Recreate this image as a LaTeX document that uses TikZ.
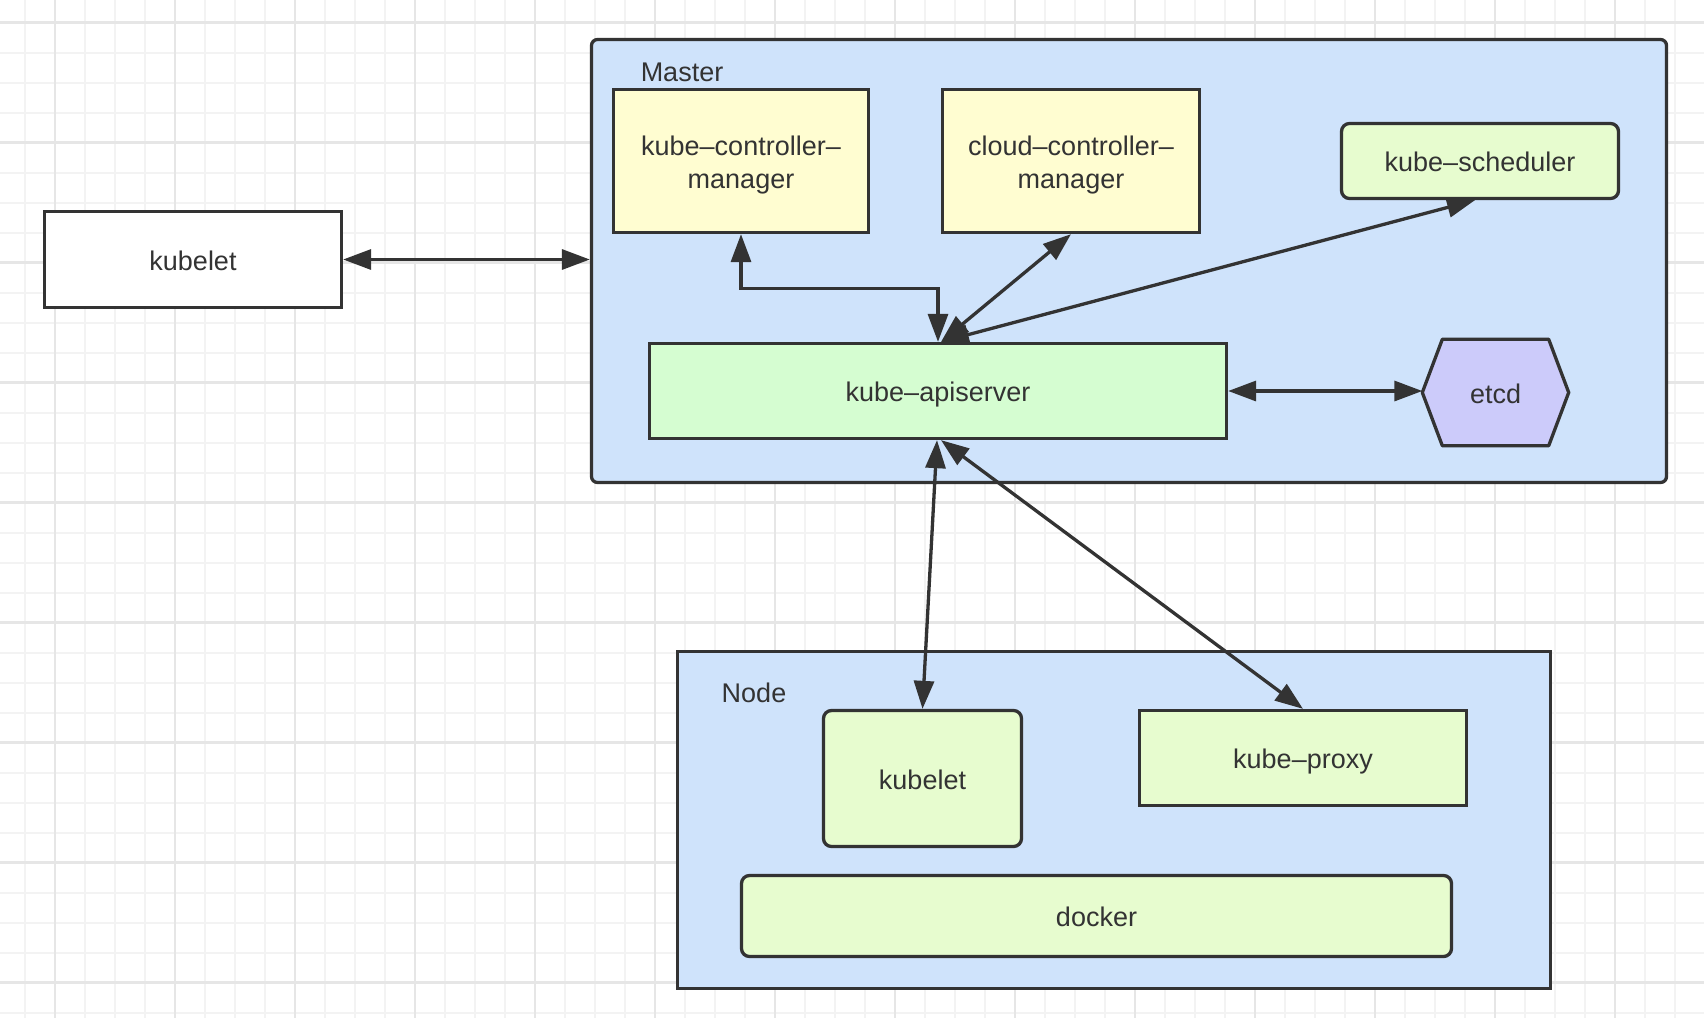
\documentclass[tikz,border=0pt]{standalone}
\usepackage{fontspec}
\setmainfont{Liberation Sans}
\usetikzlibrary{arrows.meta,calc}
\definecolor{bluebg}{HTML}{CFE3FB}
\definecolor{yel}{HTML}{FFFDD1}
\definecolor{apigreen}{HTML}{D5FDD1}
\definecolor{lgreen}{HTML}{E7FCCF}
\definecolor{lav}{HTML}{CCCBFA}
\definecolor{edge}{HTML}{333333}
\definecolor{gridminor}{HTML}{F3F3F3}
\definecolor{gridmajor}{HTML}{E6E6E6}
\begin{document}
\begin{tikzpicture}[x=1pt,y=-1pt,
  box/.style={draw=edge, line width=3.3pt, inner sep=0pt, text=edge,
    font=\fontsize{27}{32.6}\selectfont, text height=21pt, text depth=0pt},
  lbl/.style={inner sep=0pt, text=edge, font=\fontsize{27}{32.6}\selectfont,
    text height=21pt, text depth=0pt},
  mlbl/.style={inner sep=0pt, text=edge, font=\fontsize{27}{32.6}\selectfont, align=center},
  conn/.style={draw=edge, line width=3.3pt,
    {Triangle[length=28pt,width=20pt]}-{Triangle[length=28pt,width=20pt]}}
]
\useasboundingbox (0,0) rectangle (1704,1018);
\fill[white] (0,0) rectangle (1704,1018);
\begin{scope}
\clip (0,0) rectangle (1704,1018);
\foreach \i in {0,...,56} \draw[gridminor, line width=2pt] ({25+30*\i},0) -- ({25+30*\i},1018);
\foreach \i in {-1,...,33} \draw[gridminor, line width=2pt] (0,{22.7+30*\i}) -- (1704,{22.7+30*\i});
\foreach \i in {0,...,13} \draw[gridmajor, line width=2.5pt] ({55+120*\i},0) -- ({55+120*\i},1018);
\foreach \i in {0,...,8} \draw[gridmajor, line width=2.5pt] (0,{22.7+120*\i}) -- (1704,{22.7+120*\i});
\end{scope}

% containers
\node[box, fill=bluebg, rounded corners=6pt, minimum width=1075pt, minimum height=443pt] (master) at (1129,261) {};
\node[lbl] (masterlbl) at (682,71) {Master};
\node[box, fill=bluebg, minimum width=873pt, minimum height=337pt] (nodebox) at (1114,820) {};
\node[lbl] (nodelbl) at (754,692) {Node};

% master components
\node[box, fill=yel, minimum width=255pt, minimum height=143pt] (kcm) at (741,161) {};
\node[mlbl] (kcmtext) at ([yshift=-4pt]kcm.center) {kube–controller–\\manager};
\node[box, fill=yel, minimum width=257pt, minimum height=143pt] (ccm) at (1071,161) {};
\node[mlbl] (ccmtext) at ([yshift=-4pt]ccm.center) {cloud–controller–\\manager};
\node[box, fill=lgreen, rounded corners=8pt, minimum width=277pt, minimum height=75pt] (sched) at (1480,161) {kube–scheduler};
\node[box, fill=apigreen, minimum width=577pt, minimum height=95pt] (api) at (938,391) {kube–apiserver};
\node[inner sep=0pt, minimum width=146pt, minimum height=106pt] (etcd) at (1495.5,392.5) {};
\draw[draw=edge, fill=lav, line width=3.3pt, line join=round]
  (etcd.west) -- ([xshift=20pt]etcd.north west) -- ([xshift=-20pt]etcd.north east)
  -- (etcd.east) -- ([xshift=-20pt]etcd.south east) -- ([xshift=20pt]etcd.south west) -- cycle;
\node[lbl] (etcdtext) at (etcd) {etcd};

% external kubelet
\node[box, fill=white, minimum width=297pt, minimum height=96pt] (kl) at (193,259.5) {kubelet};

% node components
\node[box, fill=lgreen, rounded corners=8pt, minimum width=198pt, minimum height=136pt] (nk) at (922.5,778.5) {kubelet};
\node[box, fill=lgreen, minimum width=327pt, minimum height=95pt] (proxy) at (1303,758) {kube–proxy};
\node[box, fill=lgreen, rounded corners=8pt, minimum width=710pt, minimum height=81pt] (docker) at (1096.5,916) {docker};

% connectors
\draw[conn] (kl.east) -- (kl.east -| master.west);
\draw[conn] (kcm.south) -- ++(0,54) -| (api.north);
\draw[conn] (ccm.south) -- ([xshift=3pt]api.north);
\draw[conn] ([xshift=-5pt]sched.south) -- ([xshift=3pt]api.north);
\draw[conn] (api.east) -- (api.east -| etcd.west);
\draw[conn] ([xshift=-1pt]api.south) -- (nk.north);
\draw[conn] ([xshift=3pt]api.south) -- (proxy.north);
\end{tikzpicture}
\end{document}
